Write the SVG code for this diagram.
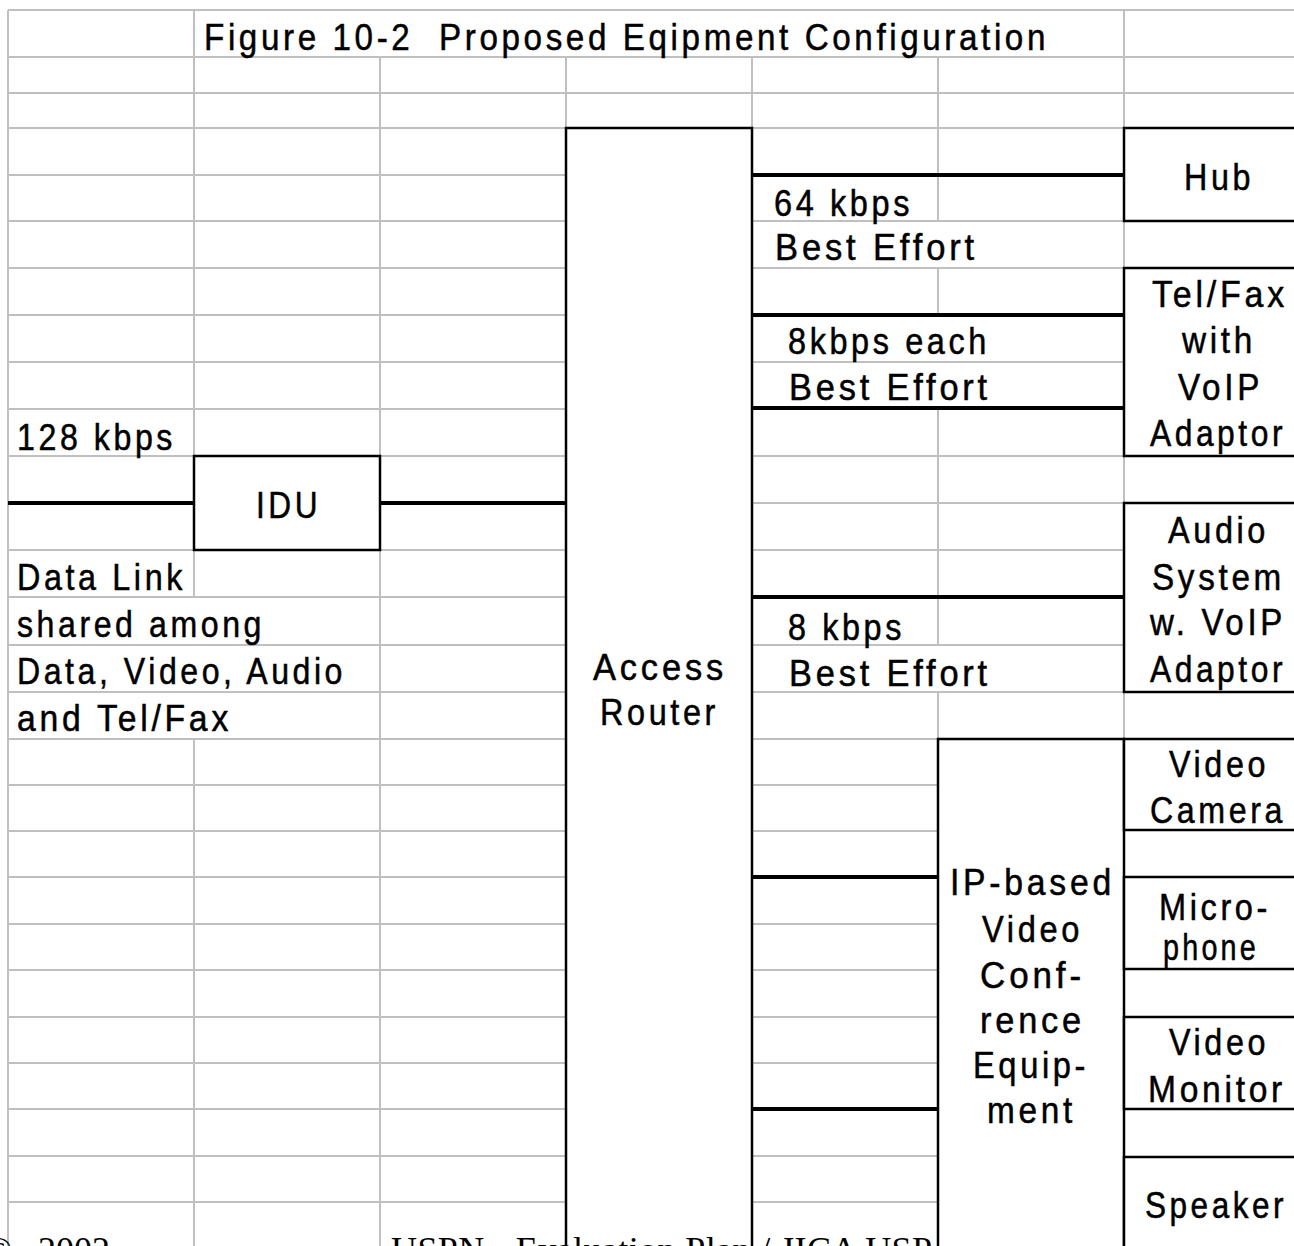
<svg xmlns="http://www.w3.org/2000/svg" width="1294" height="1246" viewBox="0 0 1294 1246">
  <style>
    .g{stroke:#c0c0c0;stroke-width:2;fill:none}
    .box{fill:#fff;stroke:#000;stroke-width:2.5}
    .wire{stroke:#000;stroke-width:4;fill:none}
    .t,.ttl{font-family:"Liberation Sans",Arial,sans-serif;fill:#000;stroke:#000;stroke-width:0.5;letter-spacing:4px}
    .t{font-size:36px}
    .ttl{font-size:37px}
    .f{font-family:"Liberation Serif","Times New Roman",serif;font-size:36px;fill:#000}
  </style>
  <rect x="0" y="0" width="1294" height="1246" fill="#fff"/>

  <!-- worksheet cell grid -->
  <g id="grid" class="g">
    <path d="M8 10H1294M8 57H1294M8 93H1294M8 128H1124"/>
    <path d="M8 175H1124M8 221H1124M8 268H1124M8 315H1124M8 362H1124M8 409H1124M8 456H1124M8 503H1124M8 550H1124M8 597H1124M8 645H1124M8 692H1124M8 739H1124M8 785H1124M8 831H1124M8 877H1124M8 924H1124M8 970H1124M8 1017H1124M8 1063H1124M8 1109H1124M8 1156H1124M8 1202H1124"/>
    <path d="M8 10V1246"/>
    <path d="M194 10V456M194 550V597M194 739V1246"/>
    <path d="M380 57V456M380 550V1246"/>
    <path d="M566 57V128M752 57V128"/>
    <path d="M938 57V221M938 268V315M938 408V645M938 692V739"/>
    <path d="M1124 10V739"/>
  </g>

  <!-- links -->
  <g id="connectors" class="wire">
    <path d="M8 503H194"/>
    <path d="M380 503H566"/>
    <path d="M752 175H1124"/>
    <path d="M752 315H1124"/>
    <path d="M752 408H1124"/>
    <path d="M752 597H1124"/>
    <path d="M752 877H938"/>
    <path d="M752 1109H938"/>
  </g>

  <g id="node-router">
    <rect class="box" x="566" y="128" width="186" height="1140"/>
    <text class="t" x="593" y="680" textLength="134" lengthAdjust="spacingAndGlyphs">Access</text>
    <text class="t" x="600" y="725" textLength="119" lengthAdjust="spacingAndGlyphs">Router</text>
  </g>

  <!-- page footer -->
  <g id="footer" class="f">
    <text x="-15" y="1262">©<tspan x="38">2002</tspan></text>
    <text x="391" y="1262" textLength="541">USPN - Evaluation Plan / JICA USP</text>
  </g>

  <g id="node-idu">
    <rect class="box" x="194" y="456" width="186" height="94"/>
    <text class="t" x="256" y="518" textLength="65" lengthAdjust="spacingAndGlyphs">IDU</text>
  </g>

  <g id="node-hub">
    <rect class="box" x="1124" y="128" width="200" height="93"/>
    <text class="t" x="1184" y="190" textLength="70" lengthAdjust="spacingAndGlyphs">Hub</text>
  </g>

  <g id="node-telfax">
    <rect class="box" x="1124" y="268" width="200" height="188"/>
    <text class="t" x="1152" y="307" textLength="136" lengthAdjust="spacingAndGlyphs">Tel/Fax</text>
    <text class="t" x="1182" y="353" textLength="74" lengthAdjust="spacingAndGlyphs">with</text>
    <text class="t" x="1178" y="400" textLength="85" lengthAdjust="spacingAndGlyphs">VoIP</text>
    <text class="t" x="1150" y="446" textLength="136" lengthAdjust="spacingAndGlyphs">Adaptor</text>
  </g>

  <g id="node-audio">
    <rect class="box" x="1124" y="503" width="200" height="189"/>
    <text class="t" x="1168" y="543" textLength="101" lengthAdjust="spacingAndGlyphs">Audio</text>
    <text class="t" x="1152" y="590" textLength="133" lengthAdjust="spacingAndGlyphs">System</text>
    <text class="t" x="1150" y="635" textLength="136" lengthAdjust="spacingAndGlyphs">w. VoIP</text>
    <text class="t" x="1150" y="682" textLength="136" lengthAdjust="spacingAndGlyphs">Adaptor</text>
  </g>

  <g id="node-videoconf">
    <rect class="box" x="938" y="739" width="186" height="530"/>
    <text class="t" x="950" y="895" textLength="165" lengthAdjust="spacingAndGlyphs">IP-based</text>
    <text class="t" x="982" y="942" textLength="101" lengthAdjust="spacingAndGlyphs">Video</text>
    <text class="t" x="980" y="988" textLength="105" lengthAdjust="spacingAndGlyphs">Conf-</text>
    <text class="t" x="980" y="1033" textLength="105" lengthAdjust="spacingAndGlyphs">rence</text>
    <text class="t" x="973" y="1078" textLength="116" lengthAdjust="spacingAndGlyphs">Equip-</text>
    <text class="t" x="987" y="1123" textLength="89" lengthAdjust="spacingAndGlyphs">ment</text>
  </g>

  <g id="node-camera">
    <rect class="box" x="1124" y="739" width="200" height="91"/>
    <text class="t" x="1169" y="777" textLength="100" lengthAdjust="spacingAndGlyphs">Video</text>
    <text class="t" x="1150" y="823" textLength="136" lengthAdjust="spacingAndGlyphs">Camera</text>
  </g>

  <g id="node-microphone">
    <rect class="box" x="1124" y="877" width="200" height="92"/>
    <text class="t" x="1159" y="920" textLength="112" lengthAdjust="spacingAndGlyphs">Micro-</text>
    <text class="t" x="1163" y="960" textLength="96" lengthAdjust="spacingAndGlyphs">phone</text>
  </g>

  <g id="node-monitor">
    <rect class="box" x="1124" y="1017" width="200" height="92"/>
    <text class="t" x="1169" y="1055" textLength="100" lengthAdjust="spacingAndGlyphs">Video</text>
    <text class="t" x="1148" y="1102" textLength="138" lengthAdjust="spacingAndGlyphs">Monitor</text>
  </g>

  <g id="node-speaker">
    <rect class="box" x="1124" y="1157" width="200" height="120"/>
    <text class="t" x="1145" y="1218" textLength="142" lengthAdjust="spacingAndGlyphs">Speaker</text>
  </g>

  <!-- title and link notes -->
  <g id="labels">
    <text class="ttl" x="204" y="50" textLength="845" lengthAdjust="spacingAndGlyphs" xml:space="preserve">Figure 10-2  Proposed Eqipment Configuration</text>
    <text class="t" x="17" y="450" textLength="159" lengthAdjust="spacingAndGlyphs">128 kbps</text>
    <text class="t" x="17" y="590" textLength="169" lengthAdjust="spacingAndGlyphs">Data Link</text>
    <text class="t" x="17" y="637" textLength="248" lengthAdjust="spacingAndGlyphs">shared among</text>
    <text class="t" x="17" y="684" textLength="329" lengthAdjust="spacingAndGlyphs">Data, Video, Audio</text>
    <text class="t" x="17" y="731" textLength="215" lengthAdjust="spacingAndGlyphs">and Tel/Fax</text>
    <text class="t" x="774" y="216" textLength="139" lengthAdjust="spacingAndGlyphs">64 kbps</text>
    <text class="t" x="775" y="260" textLength="203" lengthAdjust="spacingAndGlyphs">Best Effort</text>
    <text class="t" x="788" y="354" textLength="202" lengthAdjust="spacingAndGlyphs">8kbps each</text>
    <text class="t" x="789" y="400" textLength="202" lengthAdjust="spacingAndGlyphs">Best Effort</text>
    <text class="t" x="788" y="640" textLength="117" lengthAdjust="spacingAndGlyphs">8 kbps</text>
    <text class="t" x="789" y="686" textLength="202" lengthAdjust="spacingAndGlyphs">Best Effort</text>
  </g>
</svg>
